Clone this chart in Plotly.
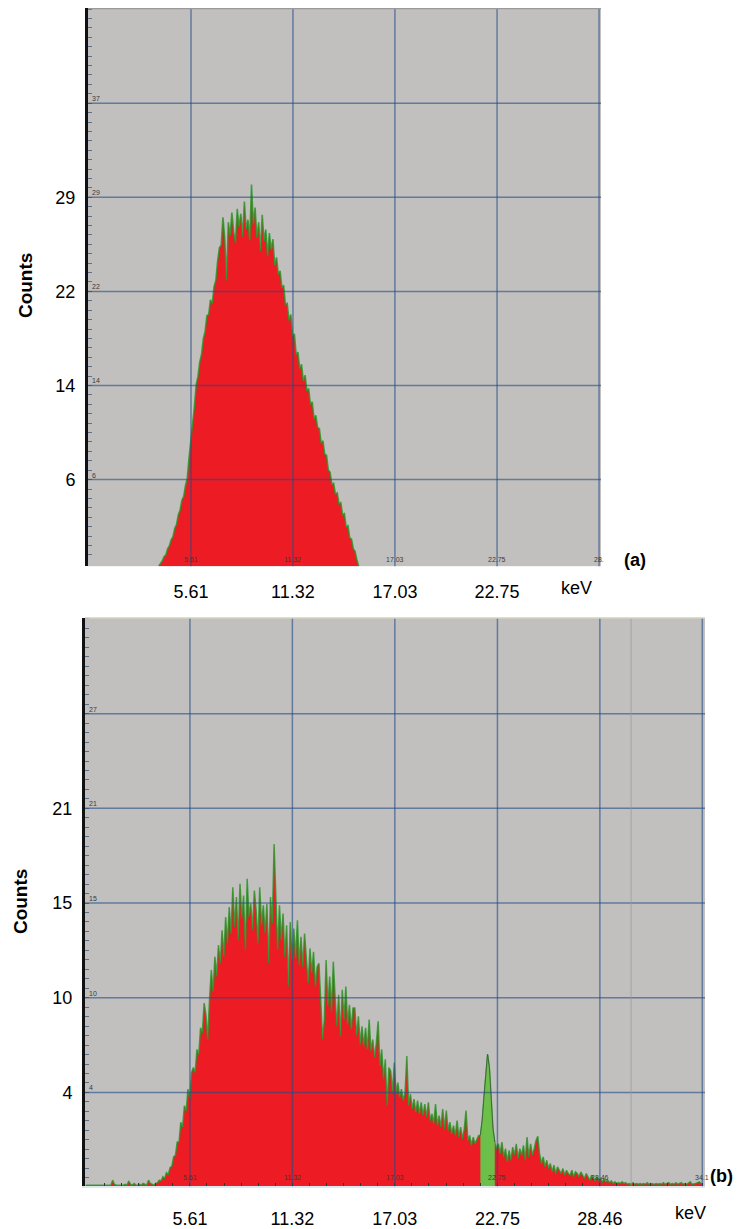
import numpy as np
import plotly.graph_objects as go

# ---------------- data ----------------
BIN_WIDTH = 0.1  # keV per channel

# Panel (a): counts per channel, channels start at 3.8 keV
energy_a_start = 3.8
counts_a = [
    -1.13, -0.95, -0.7, -0.35, -0.2, 0.3, 0.55, 1.05, 1.3, 2.0,
    2.3, 3.1, 3.5, 4.3, 4.6, 5.5, 6.1, 7.8, 9.1, 10.9,
    12.0, 13.8, 14.5, 15.7, 16.3, 17.6, 18.2, 19.5, 19.6, 20.8,
    20.5, 21.9, 22.4, 24.0, 25.1, 25.3, 27.6, 25.9, 22.4, 27.2,
    26.1, 28.0, 26.4, 25.5, 28.3, 26.8, 27.9, 26.0, 28.9, 26.6,
    27.4, 25.7, 30.3, 27.0, 28.4, 25.9, 27.2, 24.8, 27.8, 25.6,
    26.6, 24.4, 26.3, 24.9, 25.8, 23.6, 24.3, 22.9, 23.2, 21.8,
    22.0, 20.4, 20.5, 19.1, 19.6, 17.8, 18.0, 16.3, 16.5, 15.1,
    15.5, 14.1, 14.6, 13.3, 13.5, 12.2, 12.4, 11.0, 11.3, 10.3,
    10.2, 9.0, 9.2, 8.1, 8.0, 6.8, 6.6, 5.6, 5.7, 4.8,
    4.9, 4.0, 4.1, 3.1, 3.2, 2.1, 2.2, 1.2, 1.1, 0.3,
    0.1, -0.6, -1.13,
]

# Panel (b): counts per channel, channels start at -0.2 keV
energy_b_start = -0.2
counts_b = [
    -1.6, -1.6, -1.58, -1.6, -1.6, -1.58, -1.6, -1.6, -1.6, -1.6,
    -1.6, -1.58, -1.6, -1.6, -1.6, -1.3, -1.55, -1.6, -1.6, -1.6,
    -1.6, -1.6, -1.55, -1.6, -1.35, -1.55, -1.6, -1.5, -1.6, -1.6,
    -1.55, -1.6, -1.5, -1.55, -1.6, -1.3, -1.5, -1.55, -1.6, -1.5,
    -1.45, -1.3, -1.35, -1.1, -1.2, -0.85, -0.95, -0.55, -0.45, 0.1,
    0.2, 1.0, 1.0, 2.2, 1.9, 3.2, 2.9, 4.2, 3.6, 5.2,
    5.5, 5.2, 6.6, 6.3, 7.9, 7.6, 9.4, 8.7, 7.2, 9.6,
    11.4, 10.1, 12.2, 11.0, 12.9, 11.8, 13.8, 12.2, 14.6, 13.0,
    15.2, 13.6, 16.4, 14.0, 15.8, 13.2, 16.6, 14.5, 15.9, 12.6,
    16.9, 14.6, 15.4, 13.8, 16.2, 15.0, 13.0, 16.4, 14.1, 15.3,
    13.6, 15.4, 11.8, 15.8, 14.2, 19.0, 15.0, 12.6, 15.3, 13.2,
    14.8, 12.2, 14.1, 10.4, 14.3, 12.0, 13.9, 12.1, 14.4, 11.7,
    13.4, 11.6, 13.6, 12.3, 10.6, 12.7, 11.2, 12.5, 10.4, 11.6,
    11.8, 9.6, 7.2, 8.4, 12.0, 9.2, 11.0, 8.9, 11.9, 9.8,
    8.0, 9.9, 7.4, 10.2, 8.4, 10.4, 8.1, 9.3, 7.8, 9.1,
    9.1, 7.4, 8.6, 6.9, 8.0, 6.8, 7.9, 6.6, 8.4, 6.5,
    7.2, 6.1, 7.0, 8.3, 5.6, 6.6, 4.8, 6.0, 3.2, 5.5,
    5.3, 4.0, 5.8, 3.9, 4.6, 3.7, 4.2, 3.5, 4.0, 6.2,
    3.2, 3.9, 3.0, 3.6, 2.8, 3.5, 2.7, 3.4, 2.6, 3.3,
    2.5, 3.4, 2.3, 2.7, 2.1, 3.3, 2.0, 2.6, 1.9, 3.0,
    1.8, 2.9, 1.7, 2.2, 1.5, 2.0, 1.4, 2.3, 1.3, 1.9,
    1.2, 1.8, 2.9, 1.1, 1.4, 0.8, 1.3, 0.9, 1.2, 1.4,
    1.4, 2.3, 3.7, 5.3, 6.3, 5.5, 3.3, 1.8, 1.0, 0.6,
    0.9, 0.3, 1.0, 0.1, 0.6, -0.2, 0.5, -0.1, 0.7, 0.2,
    0.9, 0.0, 0.6, 0.2, 0.8, -0.1, 1.3, 0.1, 0.9, 0.2,
    0.6, 1.1, 1.35, 0.3, -0.3, 0.1, -0.5, -0.1, -0.6, -0.3,
    -0.8, -0.4, -0.9, -0.5, -0.7, -0.9, -0.6, -1.0, -0.7, -0.9,
    -1.0, -0.7, -1.1, -0.8, -0.9, -1.1, -0.8, -1.0, -1.2, -0.9,
    -1.1, -1.3, -1.0, -1.2, -1.35, -1.1, -1.3, -1.2, -1.4, -1.25,
    -1.4, -1.3, -1.45, -1.35, -1.5, -1.4, -1.5, -1.45, -1.5, -1.4,
    -1.5, -1.45, -1.55, -1.5, -1.55, -1.45, -1.55, -1.5, -1.55, -1.5,
    -1.55, -1.5, -1.55, -1.45, -1.55, -1.5, -1.55, -1.55, -1.5, -1.55,
    -1.5, -1.55, -1.45, -1.55, -1.5, -1.45, -1.55, -1.5, -1.55, -1.45,
    -1.55, -1.5, -1.45, -1.55, -1.5, -1.55, -1.45, -1.4, -1.55, -1.5,
    -1.5, -1.45, -1.4, -1.5, -1.55,
]
roi_b = (21.75, 22.65)   # highlighted peak region (keV)
marker_b = 30.2          # grey marker line (keV)

x_tick_vals = [5.61, 11.32, 17.03, 22.75, 28.46, 34.17]
x_tick_text = ["5.61", "11.32", "17.03", "22.75", "28.46", "34.1"]
y_tick_vals_a = [6, 13.75, 21.5, 29.25, 37]
y_tick_text_a = ["6", "14", "22", "29", "37"]
y_tick_vals_b = [4, 9.72, 15.44, 21.16, 26.88]
y_tick_text_b = ["4", "10", "15", "21", "27"]

x_range_a = [-0.157, 28.57]
y_range_a = [-1.13, 44.8]
x_range_b = [-0.24, 34.32]
y_range_b = [-1.66, 32.66]

# ---------------- figure ----------------
# the page body has an 8px margin; pixel positions below are window pixels
OFF = 8
W, H = 744 - OFF, 1229 - OFF
FONT = "Liberation Sans, Arial, Helvetica, sans-serif"
BG = "#c1c0be"
RED = "#ed1c24"
GREEN_LINE = "rgba(35,150,35,0.8)"
GRID = "rgba(35,75,135,0.6)"

energy_a = np.round(energy_a_start + BIN_WIDTH * np.arange(len(counts_a)), 2)
energy_b = np.round(energy_b_start + BIN_WIDTH * np.arange(len(counts_b)), 2)
counts_a = np.array(counts_a)
counts_b = np.array(counts_b)

fig = go.Figure()

# panel a
fig.add_trace(go.Scatter(x=energy_a, y=[y_range_a[0]] * len(energy_a), mode="lines",
                         line=dict(width=0, color=RED), hoverinfo="skip",
                         showlegend=False, xaxis="x", yaxis="y"))
fig.add_trace(go.Scatter(x=energy_a, y=counts_a, mode="lines", fill="tonexty",
                         fillcolor=RED, line=dict(width=1.6, color=GREEN_LINE),
                         showlegend=False, xaxis="x", yaxis="y"))

# panel b
fig.add_trace(go.Scatter(x=energy_b, y=[y_range_b[0]] * len(energy_b), mode="lines",
                         line=dict(width=0, color=RED), hoverinfo="skip",
                         showlegend=False, xaxis="x2", yaxis="y2"))
fig.add_trace(go.Scatter(x=energy_b, y=counts_b, mode="lines", fill="tonexty",
                         fillcolor=RED, line=dict(width=1.5, color=GREEN_LINE),
                         showlegend=False, xaxis="x2", yaxis="y2"))
mask = (energy_b >= roi_b[0]) & (energy_b <= roi_b[1])
roi_x = energy_b[mask]
roi_y = counts_b[mask]
fig.add_trace(go.Scatter(x=roi_x, y=[y_range_b[0]] * len(roi_x), mode="lines",
                         line=dict(width=0), hoverinfo="skip",
                         showlegend=False, xaxis="x2", yaxis="y2"))
fig.add_trace(go.Scatter(x=roi_x, y=roi_y, mode="lines", fill="tonexty",
                         fillcolor="#6cc04a", line=dict(width=1, color="rgba(60,90,60,0.8)"),
                         showlegend=False, xaxis="x2", yaxis="y2"))

def px_x(p):
    return (p - OFF) / W

def px_y(p):
    return 1 - (p - OFF) / H

dom_a_x = [px_x(88), px_x(601)]
dom_a_y = [px_y(568), px_y(8.5)]
dom_b_x = [px_x(85), px_x(705)]
dom_b_y = [px_y(1190), px_y(620)]

tickfont = dict(family=FONT, size=18, color="black")

fig.update_layout(
    width=W, height=H,
    margin=dict(l=0, r=0, t=0, b=0),
    paper_bgcolor="white",
    plot_bgcolor=BG,
    xaxis=dict(domain=dom_a_x, range=x_range_a, anchor="y",
               tickvals=x_tick_vals[:4], ticktext=x_tick_text[:4],
               showgrid=False, zeroline=False, showline=False, ticks="",
               tickfont=tickfont, ticklabelstandoff=13),
    yaxis=dict(domain=dom_a_y, range=y_range_a, anchor="x",
               tickvals=y_tick_vals_a[:4], ticktext=y_tick_text_a[:4],
               showgrid=False, zeroline=False, showline=True, linecolor="#111",
               linewidth=3, ticks="", tickfont=tickfont, ticklabelstandoff=6,
               minor=dict(ticks="inside", ticklen=4, tickcolor="#60708a", tickwidth=1,
                          tickvals=list(np.arange(-0.2, 44.8, 0.775)), showgrid=False)),
    xaxis2=dict(domain=dom_b_x, range=x_range_b, anchor="y2",
                tickvals=x_tick_vals[:5], ticktext=x_tick_text[:5],
                showgrid=False, zeroline=False, showline=True, linecolor="#dfe6ee",
                linewidth=2, ticks="", tickfont=tickfont, ticklabelstandoff=15,
                minor=dict(ticks="inside", ticklen=3, tickcolor="#333", tickwidth=1,
                           tickvals=list(np.arange(0.85, 34.2, 0.9517)), showgrid=False)),
    yaxis2=dict(domain=dom_b_y, range=y_range_b, anchor="x2",
                tickvals=y_tick_vals_b[:4], ticktext=y_tick_text_b[:4],
                showgrid=False, zeroline=False, showline=True, linecolor="#111",
                linewidth=3, ticks="", tickfont=tickfont, ticklabelstandoff=6,
                minor=dict(ticks="inside", ticklen=4, tickcolor="#60708a", tickwidth=1,
                           tickvals=list(np.arange(-1.72, 32.6, 0.572)), showgrid=False)),
)

shapes = []
# gridlines above traces
for xv in x_tick_vals[:5]:
    shapes.append(dict(type="line", xref="x", yref="y domain", x0=xv, x1=xv, y0=0, y1=1,
                       line=dict(color=GRID, width=1.5), layer="above"))
for yv in y_tick_vals_a:
    shapes.append(dict(type="line", xref="x domain", yref="y", x0=0, x1=1, y0=yv, y1=yv,
                       line=dict(color=GRID, width=1.5), layer="above"))
for xv in x_tick_vals:
    shapes.append(dict(type="line", xref="x2", yref="y2 domain", x0=xv, x1=xv, y0=0, y1=1,
                       line=dict(color=GRID, width=1.5), layer="above"))
for yv in y_tick_vals_b:
    shapes.append(dict(type="line", xref="x2 domain", yref="y2", x0=0, x1=1, y0=yv, y1=yv,
                       line=dict(color=GRID, width=1.5), layer="above"))
shapes.append(dict(type="line", xref="x2", yref="y2 domain", x0=marker_b, x1=marker_b, y0=0, y1=1,
                   line=dict(color="rgba(150,150,160,0.7)", width=1), layer="above"))
# top borders
shapes.append(dict(type="line", xref="x domain", yref="y domain", x0=0, x1=1, y0=1, y1=1,
                   line=dict(color="#9a9a9a", width=1.5), layer="above"))
shapes.append(dict(type="line", xref="x2 domain", yref="y2 domain", x0=0, x1=1, y0=1, y1=1,
                   line=dict(color="#d6d0c0", width=1.5), layer="above"))
fig.update_layout(shapes=shapes)

ann = []
small = dict(family=FONT, size=7, color="#3a3a3a")
# inner small x labels
for xv, t in zip(x_tick_vals[:5], ["5.61", "11.32", "17.03", "22.75", "28."]):
    ann.append(dict(x=xv, y=0, xref="x", yref="y domain", text=t, showarrow=False,
                    font=small, xanchor="center", yanchor="bottom", yshift=1))
for xv, t in zip(x_tick_vals, x_tick_text):
    ann.append(dict(x=xv, y=0, xref="x2", yref="y2 domain", text=t, showarrow=False,
                    font=small, xanchor="center", yanchor="bottom", yshift=3))
# inner small y labels
for yv, t in zip(y_tick_vals_a, y_tick_text_a):
    ann.append(dict(x=0, y=yv, xref="x domain", yref="y", text=t, showarrow=False,
                    font=small, xanchor="left", yanchor="bottom", xshift=2, yshift=-1))
for yv, t in zip(y_tick_vals_b, y_tick_text_b):
    ann.append(dict(x=0, y=yv, xref="x2 domain", yref="y2", text=t, showarrow=False,
                    font=small, xanchor="left", yanchor="bottom", xshift=2, yshift=-1))

big = dict(family=FONT, size=18, color="black")
label = dict(family=FONT, size=19, color="black")
ann += [
    dict(x=px_x(576), y=px_y(590), xref="paper", yref="paper", text="keV", showarrow=False,
         font=big, xanchor="center", yanchor="middle"),
    dict(x=px_x(690), y=px_y(1217), xref="paper", yref="paper", text="keV", showarrow=False,
         font=big, xanchor="center", yanchor="middle"),
    dict(x=px_x(635), y=px_y(562), xref="paper", yref="paper", text="<b>(a)</b>", showarrow=False,
         font=big, xanchor="center", yanchor="middle"),
    dict(x=px_x(721), y=px_y(1180), xref="paper", yref="paper", text="<b>(b)</b>", showarrow=False,
         font=big, xanchor="center", yanchor="middle"),
    dict(x=px_x(25), y=px_y(287), xref="paper", yref="paper", text="<b>Counts</b>", showarrow=False,
         font=label, textangle=-90, xanchor="center", yanchor="middle"),
    dict(x=px_x(20), y=px_y(905), xref="paper", yref="paper", text="<b>Counts</b>", showarrow=False,
         font=label, textangle=-90, xanchor="center", yanchor="middle"),
]
fig.update_layout(annotations=ann)

fig.write_html("out.html")
